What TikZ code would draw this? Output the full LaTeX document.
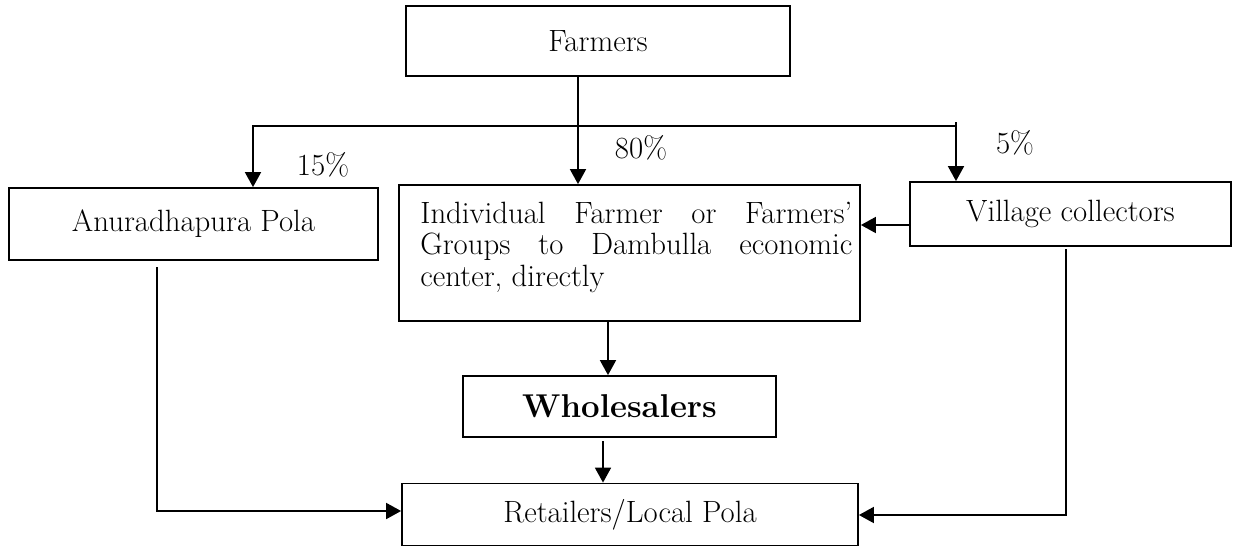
\documentclass[tikz,border=0pt]{standalone}
\usetikzlibrary{arrows.meta}
\begin{document}
\begin{tikzpicture}[x=0.5pt,y=-0.5pt,
  txt/.style={font=\fontsize{15.4}{15.6}\selectfont},
  box/.style={txt, draw, line width=0.9pt, rectangle, inner sep=0pt},
  conn/.style={line width=0.9pt},
  arr/.style={conn, -{Triangle[length=7.5pt,width=8pt]}},
  pct/.style={txt, inner sep=0pt}]
\useasboundingbox (0,0) rectangle (1233,547);

% boxes
\node[box, minimum width=192pt, minimum height=35pt] (farmers) at (598,41) {Farmers};
\node[box, minimum width=184.5pt, minimum height=36pt] (anu) at (193.5,224) {Anuradhapura Pola};
\node[box, minimum width=230.5pt, minimum height=68pt] (ind) at (629.5,253) {};
\node[txt, anchor=north west, inner sep=0pt, align=left] (indtext) at (420,202)
  {\makebox[216pt][s]{Individual Farmer or Farmers'}\\
   \makebox[216pt][s]{Groups to Dambulla economic}\\
   center, directly};
\node[box, minimum width=160.5pt, minimum height=32pt] (village) at (1070.5,214) {Village collectors};
\node[box, minimum width=156.5pt, minimum height=30.5pt,
      font=\fontsize{16.5}{18}\selectfont\bfseries] (whole) at (619.5,406.5) {Wholesalers};
\node[box, minimum width=228pt, minimum height=31pt] (retail) at (630,514.5) {Retailers/Local Pola};

% split points
\coordinate (lsplit) at (253,126);
\coordinate (rsplit) at (956,126);
\coordinate (rtick) at (956,122);
\coordinate (ftrunk) at (578,126);

\draw[arr] (farmers.south -| ftrunk) -- (ind.north -| ftrunk);
\draw[arr] (rsplit) -- (lsplit) -- (anu.north -| lsplit);
\draw[arr] (rtick) -- (village.north -| rtick);

% village collectors to the economic center
\coordinate (vy) at (0,225);
\draw[arr] (village.west |- vy) -- (ind.east |- vy);

% down the middle
\coordinate (ix) at (608,0);
\draw[arr] (ind.south -| ix) -- (whole.north -| ix);
\coordinate (wx) at (603,441);
\draw[arr] (wx) -- (retail.north -| wx);

% side routes to retailers
\coordinate (lstart) at (157,267);
\coordinate (lcorner) at (157,511);
\draw[arr] (lstart) -- (lcorner) -- (retail.west |- lcorner);
\coordinate (rstart) at (1066,249);
\coordinate (rcorner) at (1066,515);
\draw[arr] (rstart) -- (rcorner) -- (retail.east |- rcorner);

% shares
\node[pct] (p15) at (323,165) {15\%};
\node[pct] (p80) at (641,148) {80\%};
\node[pct] (p5) at (1015,143) {5\%};
\end{tikzpicture}
\end{document}
